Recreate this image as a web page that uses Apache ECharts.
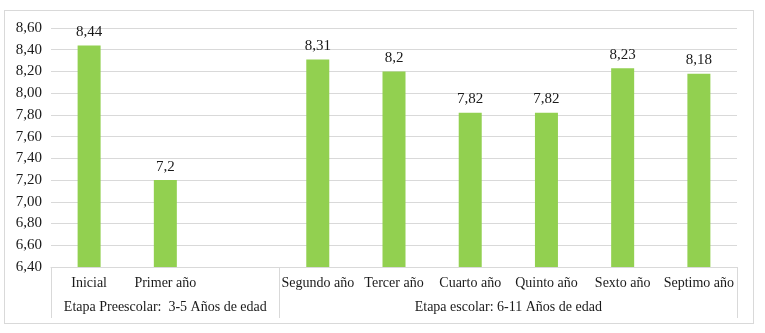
<!DOCTYPE html>
<html><head><meta charset="utf-8">
<script src="https://cdn.jsdelivr.net/npm/echarts@6/dist/echarts.min.js"></script>
<style>html,body{margin:0;padding:0;background:#fff}#c{width:765px;height:333px}
#frame{position:absolute;left:4px;top:10px;width:748px;height:312px;border:1px solid #d9d9d9;pointer-events:none}</style>
</head><body><div id="c"></div><div id="frame"></div>
<script>
const categories = ['Inicial', 'Primer año', '', 'Segundo año', 'Tercer año', 'Cuarto año', 'Quinto año', 'Sexto año', 'Septimo año'];
const values = [8.44, 7.2, null, 8.31, 8.2, 7.82, 7.82, 8.23, 8.18];
const groupNames = ['Etapa Preescolar:  3-5 Años de edad', 'Etapa escolar: 6-11 Años de edad'];
const groupCenters = [1.5, 6];
const groupBounds = [0, 3, 9];
const yMin = 6.4, yMax = 8.6, yStep = 0.2;

const font = '"Liberation Serif", "Times New Roman", serif';
const chart = echarts.init(document.getElementById('c'), null, {renderer: 'canvas'});
chart.setOption({
  animation: false,
  grid: {left: 51, right: 28, top: 28, bottom: 66, containLabel: false},
  xAxis: [{
    type: 'category', data: categories, position: 'bottom',
    axisLine: {lineStyle: {color: '#d9d9d9', width: 1}},
    axisTick: {show: false},
    axisLabel: {interval: 0, margin: 9, color: '#1a1a1a', fontFamily: font, fontSize: 14}
  }, {
    type: 'value', min: 0, max: 9, position: 'bottom',
    axisLine: {show: false},
    splitLine: {show: false},
    axisTick: {show: true, customValues: groupBounds, length: 51, lineStyle: {color: '#d9d9d9', width: 1}},
    axisLabel: {customValues: groupCenters, margin: 33, color: '#1a1a1a', fontFamily: font, fontSize: 14,
      formatter: v => groupNames[groupCenters.indexOf(v)] || ''}
  }],
  yAxis: {
    type: 'value', min: yMin, max: yMax, interval: yStep,
    axisLine: {show: false}, axisTick: {show: false},
    splitLine: {lineStyle: {color: '#d9d9d9', width: 1}},
    axisLabel: {margin: 9, color: '#1a1a1a', fontFamily: font, fontSize: 15,
      formatter: v => v.toFixed(2).replace('.', ',')}
  },
  series: [{
    type: 'bar', data: values, xAxisIndex: 0, barWidth: 23,
    itemStyle: {color: '#92d050'},
    label: {show: true, position: 'top', distance: 6, color: '#1a1a1a', fontFamily: font, fontSize: 15,
      formatter: p => String(p.value).replace('.', ',')}
  }]
});
</script></body></html>
